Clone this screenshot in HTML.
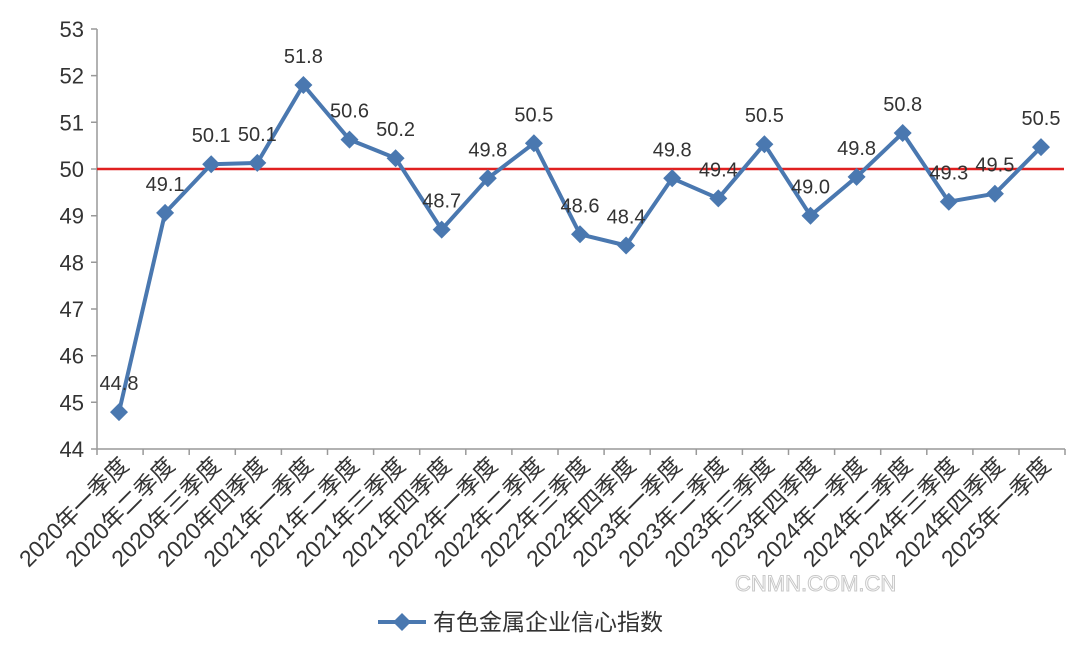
<!DOCTYPE html>
<html><head><meta charset="utf-8"><style>body{margin:0;background:#fff}svg{display:block}</style></head><body>
<svg width="1080" height="646" xmlns="http://www.w3.org/2000/svg" font-family="Liberation Sans, Noto Sans CJK SC, sans-serif">
<defs><marker id="d" viewBox="-10 -10 20 20" markerWidth="20" markerHeight="20" markerUnits="userSpaceOnUse" refX="0" refY="0"><polygon points="0,-9 9,0 0,9 -9,0" fill="#4a78b0"/></marker></defs>
<line x1="97" y1="29" x2="97" y2="449" stroke="#999" stroke-width="1.5"/>
<line x1="97" y1="449" x2="1065" y2="449" stroke="#999" stroke-width="1.5"/>
<path stroke="#999" stroke-width="1.5" d="M91 449H97M91 402.3H97M91 355.7H97M91 309H97M91 262.3H97M91 215.7H97M91 169H97M91 122.3H97M91 75.6H97M91 29H97
M97 449V455M143.1 449V455M189.2 449V455M235.3 449V455M281.4 449V455M327.5 449V455M373.6 449V455M419.7 449V455M465.8 449V455M511.9 449V455M558 449V455M604.1 449V455M650.2 449V455M696.3 449V455M742.4 449V455M788.5 449V455M834.6 449V455M880.7 449V455M926.8 449V455M972.9 449V455M1019 449V455M1065 449V455"/>
<g font-size="22" text-anchor="end" fill="#333">
<text x="84" y="457">44</text><text x="84" y="410.3">45</text><text x="84" y="363.7">46</text><text x="84" y="317">47</text><text x="84" y="270.3">48</text><text x="84" y="223.7">49</text><text x="84" y="177">50</text><text x="84" y="130.3">51</text><text x="84" y="83.6">52</text><text x="84" y="37">53</text>
</g>
<line x1="97" y1="169" x2="1064" y2="169" stroke="#e02020" stroke-width="2.5"/>
<polyline fill="none" stroke="#4a78b0" stroke-width="4" stroke-linejoin="round" marker-start="url(#d)" marker-mid="url(#d)" marker-end="url(#d)" points="119,412.1 165.1,212.9 211.2,164.3 257.3,162.9 303.4,85 349.5,139.6 395.6,158.2 441.7,229.6 487.8,178.3 533.9,143.3 580,234.3 626.1,245.5 672.2,178.3 718.3,198.4 764.4,144.2 810.5,215.7 856.6,176.9 902.7,133 948.8,201.7 994.9,193.7 1041,147.1"/>
<g font-size="20" text-anchor="middle" fill="#333">
<text x="119" y="390">44.8</text><text x="165.1" y="191">49.1</text><text x="211.2" y="142">50.1</text><text x="257.3" y="141">50.1</text><text x="303.4" y="63">51.8</text><text x="349.5" y="117.6">50.6</text><text x="395.6" y="136">50.2</text><text x="441.7" y="207.6">48.7</text><text x="487.8" y="156.3">49.8</text><text x="533.9" y="121.3">50.5</text><text x="580" y="212.3">48.6</text><text x="626.1" y="223.5">48.4</text><text x="672.2" y="156.3">49.8</text><text x="718.3" y="176.4">49.4</text><text x="764.4" y="122.2">50.5</text><text x="810.5" y="193.7">49.0</text><text x="856.6" y="154.9">49.8</text><text x="902.7" y="111">50.8</text><text x="948.8" y="179.7">49.3</text><text x="994.9" y="171.7">49.5</text><text x="1041" y="125.1">50.5</text>
</g>
<g font-size="23" text-anchor="end" fill="#333">
<text transform="translate(130,467) rotate(-45)">2020年一季度</text>
<text transform="translate(176.1,467) rotate(-45)">2020年二季度</text>
<text transform="translate(222.2,467) rotate(-45)">2020年三季度</text>
<text transform="translate(268.3,467) rotate(-45)">2020年四季度</text>
<text transform="translate(314.4,467) rotate(-45)">2021年一季度</text>
<text transform="translate(360.5,467) rotate(-45)">2021年二季度</text>
<text transform="translate(406.6,467) rotate(-45)">2021年三季度</text>
<text transform="translate(452.7,467) rotate(-45)">2021年四季度</text>
<text transform="translate(498.8,467) rotate(-45)">2022年一季度</text>
<text transform="translate(544.9,467) rotate(-45)">2022年二季度</text>
<text transform="translate(591,467) rotate(-45)">2022年三季度</text>
<text transform="translate(637.1,467) rotate(-45)">2022年四季度</text>
<text transform="translate(683.2,467) rotate(-45)">2023年一季度</text>
<text transform="translate(729.3,467) rotate(-45)">2023年二季度</text>
<text transform="translate(775.4,467) rotate(-45)">2023年三季度</text>
<text transform="translate(821.5,467) rotate(-45)">2023年四季度</text>
<text transform="translate(867.6,467) rotate(-45)">2024年一季度</text>
<text transform="translate(913.7,467) rotate(-45)">2024年二季度</text>
<text transform="translate(959.8,467) rotate(-45)">2024年三季度</text>
<text transform="translate(1005.9,467) rotate(-45)">2024年四季度</text>
<text transform="translate(1052,467) rotate(-45)">2025年一季度</text>
</g>
<line x1="378" y1="622" x2="426" y2="622" stroke="#4a78b0" stroke-width="4"/>
<polygon points="402,613 411,622 402,631 393,622" fill="#4a78b0"/>
<text x="433" y="630" font-size="23" fill="#333">有色金属企业信心指数</text>
<text x="735" y="591" font-size="22" fill="#fff" stroke="#c8c8c8" stroke-width="1">CNMN.COM.CN</text>
</svg>
</body></html>
